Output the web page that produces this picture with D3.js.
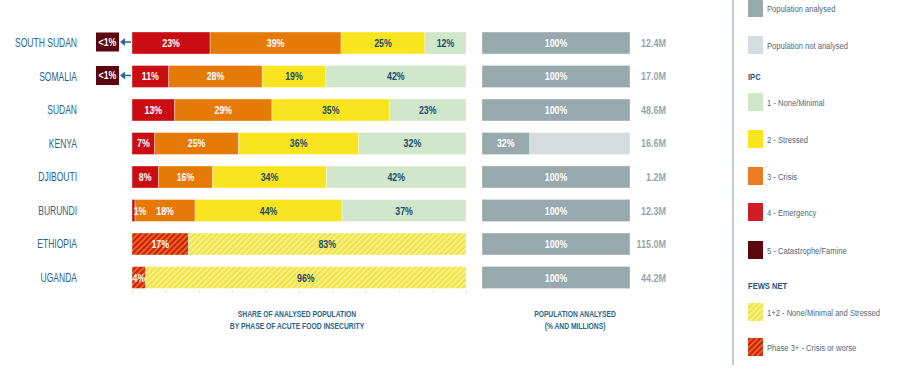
<!DOCTYPE html>
<html>
<head>
<meta charset="utf-8">
<script src="https://cdn.jsdelivr.net/npm/d3@7/dist/d3.min.js"></script>
<style>
  html, body { margin: 0; padding: 0; background: #fff; }
  svg { display: block; font-family: 'Liberation Sans', Arial, sans-serif; }
</style>
</head>
<body>
<svg id="chart" width="904" height="380"></svg>
<script>
// ---------- DATA ----------
const countries = ["SOUTH SUDAN", "SOMALIA", "SUDAN", "KENYA", "DJIBOUTI", "BURUNDI", "ETHIOPIA", "UGANDA"];
// IPC phases (% of analysed population)
const ipcPhase5 = [0.4, 0.4, 0, 0, 0, 0, null, null];          // shown as "<1%" call-out
const ipcPhase4 = [23.4, 11, 12.8, 6.8, 7.9, 0.9, null, null];
const ipcPhase3 = [39.2, 28, 29.1, 25.1, 16.2, 18, null, null];
const ipcPhase2 = [25.1, 19, 35.2, 36, 34.1, 44, null, null];
const ipcPhase1 = [12.3, 42, 22.9, 32.1, 41.8, 37.1, null, null];
// FEWS NET
const fewsPhase3plus = [null, null, null, null, null, null, 16.9, 4.1];
const fewsPhase12 = [null, null, null, null, null, null, 83.1, 95.9];
// Population analysed
const analysedPct = [100, 100, 100, 32, 100, 100, 100, 100];
const populationM = [12.4, 17.0, 48.6, 16.6, 1.2, 12.3, 115.0, 44.2];
const xTicks = [0, 10, 20, 30, 40, 50, 60, 70, 80, 90, 100];

const legendTop = ["Population analysed", "Population not analysed"];
const legendIPC = ["1 - None/Minimal", "2 - Stressed", "3 - Crisis", "4 - Emergency", "5 - Catastrophe/Famine"];
const legendFEWS = ["1+2 - None/Minimal and Stressed", "Phase 3+ - Crisis or worse"];

// ---------- STYLE ----------
const C = {
  p1: "#d0e7cb", p2: "#f9e51f", p3: "#e57a07", p4: "#c90d12", p5: "#5c0710",
  analysed: "#98a9ae", notAnalysed: "#d4dcdf",
  dark: "#1d4a6d", label: "#2b6387", pop: "#96a5ab", legendText: "#52687a"
};

// condensed look: squeeze text horizontally around its anchor
function squeeze(sel, s) {
  sel.each(function () {
    const t = d3.select(this);
    const x = +t.attr("x"), y = +t.attr("y");
    t.attr("x", 0).attr("y", 0).attr("transform", `translate(${x},${y}) scale(${s},1)`);
  });
}

const svg = d3.select("#chart");
const defs = svg.append("defs");

function hatch(id, base, stripe, w) {
  const p = defs.append("pattern").attr("id", id).attr("patternUnits", "userSpaceOnUse")
    .attr("width", 4).attr("height", 4).attr("patternTransform", "rotate(45)");
  p.append("rect").attr("width", 4).attr("height", 4).attr("fill", base);
  p.append("rect").attr("x", 0).attr("y", 0).attr("width", w).attr("height", 4).attr("fill", stripe);
}
hatch("hatchY", "#f1e33c", "#f8f2a6", 1.6);
hatch("hatchR", "#e8661a", "#c8160f", 1.8);

// ---------- SCALES ----------
const y = d3.scaleBand().domain(countries).range([32, 288.5]).paddingInner(0.3433).paddingOuter(0);
const x = d3.scaleLinear().domain([0, 100]).range([132, 466]);
const x2 = d3.scaleLinear().domain([0, 100]).range([482, 630]);
const bh = y.bandwidth();

// ---------- COUNTRY LABELS ----------
svg.append("g").selectAll("text").data(countries).join("text")
  .attr("x", 77).attr("y", d => y(d) + bh / 2 + 4.3)
  .attr("text-anchor", "end").attr("font-size", 12).attr("fill", C.label)
  .text(d => d)
  .call(squeeze, 0.71);

// ---------- STACKED BARS ----------
const segs = [];
countries.forEach((c, i) => {
  let acc = 0;
  const parts = [];
  if (ipcPhase4[i] != null) {
    parts.push({ v: ipcPhase4[i], fill: C.p4, txt: "#fff" });
    parts.push({ v: ipcPhase3[i], fill: C.p3, txt: "#fff" });
    parts.push({ v: ipcPhase2[i], fill: C.p2, txt: C.dark });
    parts.push({ v: ipcPhase1[i], fill: C.p1, txt: C.dark });
  } else {
    parts.push({ v: fewsPhase3plus[i], fill: "url(#hatchR)", txt: "#fff" });
    parts.push({ v: fewsPhase12[i], fill: "url(#hatchY)", txt: C.dark });
  }
  parts.forEach(p => {
    segs.push({ c, x0: acc, x1: acc + p.v, v: p.v, fill: p.fill, txt: p.txt });
    acc += p.v;
  });
});

const gBars = svg.append("g");
gBars.selectAll("rect").data(segs).join("rect")
  .attr("x", d => x(d.x0)).attr("y", d => y(d.c))
  .attr("width", d => x(d.x1) - x(d.x0)).attr("height", bh)
  .attr("fill", d => d.fill)
  .attr("stroke", "#ffffff").attr("stroke-opacity", 0.45).attr("stroke-width", 0.8);

gBars.selectAll("text").data(segs).join("text")
  .attr("x", d => d.v < 3 ? x(d.x1) + 5 : (x(d.x0) + x(d.x1)) / 2)
  .attr("y", d => y(d.c) + bh / 2 + 4)
  .attr("text-anchor", "middle").attr("font-size", 11).attr("font-weight", "bold")
  .attr("fill", d => d.txt)
  .text(d => Math.round(d.v) + "%")
  .call(squeeze, 0.8);

// "<1%" call-outs for phase 5
const p5 = countries.map((c, i) => ({ c, v: ipcPhase5[i] })).filter(d => d.v != null && d.v > 0);
const gP5 = svg.append("g");
gP5.selectAll("rect").data(p5).join("rect")
  .attr("x", 96).attr("y", d => y(d.c) + bh / 2 - 10.5).attr("width", 23).attr("height", 19)
  .attr("fill", C.p5);
gP5.selectAll("text").data(p5).join("text")
  .attr("x", 107.5).attr("y", d => y(d.c) + bh / 2 + 3)
  .attr("text-anchor", "middle").attr("font-size", 11).attr("font-weight", "bold").attr("fill", "#fff")
  .text("<1%")
  .call(squeeze, 0.8);
gP5.selectAll("line").data(p5).join("line")
  .attr("x1", 124).attr("x2", x(0) - 1)
  .attr("y1", d => y(d.c) + bh / 2 - 1).attr("y2", d => y(d.c) + bh / 2 - 1)
  .attr("stroke", "#2e6a8c").attr("stroke-width", 1.6);
gP5.selectAll("path").data(p5).join("path")
  .attr("d", d => { const cy = y(d.c) + bh / 2 - 1; return `M120,${cy} L125,${cy - 4} L125,${cy + 4} Z`; })
  .attr("fill", "#2e6a8c");

// bottom ticks
const axis = d3.axisBottom(x).tickValues(xTicks).tickSize(3).tickFormat("");
const gAx = svg.append("g").attr("transform", "translate(0,290)").call(axis);
gAx.select(".domain").remove();
gAx.selectAll(".tick line").attr("stroke", "#dfe5e8");

// ---------- POPULATION ANALYSED ----------
const gPop = svg.append("g");
gPop.selectAll("rect.bg").data(countries).join("rect").attr("class", "bg")
  .attr("x", x2(0)).attr("y", d => y(d)).attr("width", x2(100) - x2(0)).attr("height", bh)
  .attr("fill", C.notAnalysed).attr("stroke", "#fff").attr("stroke-opacity", 0.45).attr("stroke-width", 0.8);
gPop.selectAll("rect.fg").data(countries).join("rect").attr("class", "fg")
  .attr("x", x2(0)).attr("y", d => y(d)).attr("width", (d, i) => x2(analysedPct[i]) - x2(0)).attr("height", bh)
  .attr("fill", C.analysed).attr("stroke", "#fff").attr("stroke-opacity", 0.45).attr("stroke-width", 0.8);
gPop.selectAll("text.pct").data(countries).join("text").attr("class", "pct")
  .attr("x", (d, i) => (x2(0) + x2(analysedPct[i])) / 2).attr("y", d => y(d) + bh / 2 + 4)
  .attr("text-anchor", "middle").attr("font-size", 11).attr("font-weight", "bold").attr("fill", "#fff")
  .text((d, i) => analysedPct[i] + "%")
  .call(squeeze, 0.8);
gPop.selectAll("text.m").data(countries).join("text").attr("class", "m")
  .attr("x", 666).attr("y", d => y(d) + bh / 2 + 4)
  .attr("text-anchor", "end").attr("font-size", 11).attr("font-weight", "bold").attr("fill", C.pop)
  .text((d, i) => populationM[i].toFixed(1) + "M")
  .call(squeeze, 0.82);

// ---------- AXIS TITLES ----------
const titles = [
  { x: 297, lines: ["SHARE OF ANALYSED POPULATION", "BY PHASE OF ACUTE FOOD INSECURITY"] },
  { x: 575, lines: ["POPULATION ANALYSED", "(% AND MILLIONS)"] }
];
titles.forEach(t => {
  svg.append("text").attr("x", t.x).attr("y", 317).attr("text-anchor", "middle")
    .attr("font-size", 9).attr("font-weight", "bold").attr("fill", C.label).text(t.lines[0])
    .call(squeeze, 0.75);
  svg.append("text").attr("x", t.x).attr("y", 329).attr("text-anchor", "middle")
    .attr("font-size", 9).attr("font-weight", "bold").attr("fill", C.label).text(t.lines[1])
    .call(squeeze, 0.75);
});

// ---------- LEGEND ----------
const lg = svg.append("g");
lg.append("line").attr("x1", 733).attr("x2", 733).attr("y1", 0).attr("y2", 365)
  .attr("stroke", "#a9bcc7").attr("stroke-width", 1.5);

const legendItems = [
  { label: legendTop[0], fill: C.analysed, y: 8 },
  { label: legendTop[1], fill: C.notAnalysed, y: 45 },
  { label: legendIPC[0], fill: C.p1, y: 102 },
  { label: legendIPC[1], fill: C.p2, y: 139 },
  { label: legendIPC[2], fill: "#ec7c22", y: 176 },
  { label: legendIPC[3], fill: "#cf1d28", y: 212 },
  { label: legendIPC[4], fill: C.p5, y: 250 },
  { label: legendFEWS[0], fill: "url(#hatchY)", y: 312 },
  { label: legendFEWS[1], fill: "url(#hatchR)", y: 347 }
];
lg.selectAll("rect").data(legendItems).join("rect")
  .attr("x", 748).attr("y", d => d.y - 9).attr("width", 15).attr("height", 18)
  .attr("fill", d => d.fill);
lg.selectAll("text.item").data(legendItems).join("text").attr("class", "item")
  .attr("x", 767).attr("y", d => d.y + 3.5)
  .attr("font-size", 9.5).attr("fill", C.legendText).text(d => d.label)
  .call(squeeze, 0.8);
[{ t: "IPC", y: 80 }, { t: "FEWS NET", y: 289 }].forEach(h => {
  lg.append("text").attr("x", 748).attr("y", h.y).attr("font-size", 9.5).attr("font-weight", "bold")
    .attr("fill", "#24507a").text(h.t)
    .call(squeeze, 0.8);
});
</script>
</body>
</html>
